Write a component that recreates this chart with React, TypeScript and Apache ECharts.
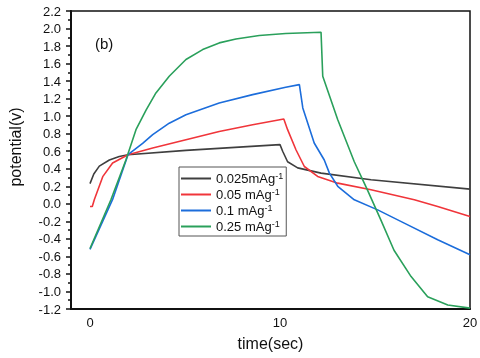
import React, { useEffect, useRef } from "react";
import * as echarts from "echarts";

const seriesNames = ["0.025mAg-1", "0.05 mAg-1", "0.1 mAg-1", "0.25 mAg-1"];
const colors = ["#3f3f3f", "#f0353a", "#1c6ddb", "#2aa05b"];

const tBlack = [0, 0.2, 0.49, 1.02, 1.54, 2.0, 5.05, 10.0, 10.14, 10.4, 10.93, 12.16, 14.79, 20];
const vBlack = [0.23, 0.34, 0.43, 0.5, 0.54, 0.56, 0.61, 0.675, 0.6, 0.48, 0.41, 0.35, 0.274, 0.168];

const tRed = [0, 0.12, 0.23, 0.67, 1.19, 2.0, 3.3, 5.05, 6.8, 8.56, 10.2, 10.4, 10.84, 11.28, 11.98, 13.04, 14.79, 17.07, 18.3, 20];
const vRed = [-0.03, -0.03, 0.05, 0.31, 0.465, 0.56, 0.637, 0.731, 0.826, 0.903, 0.968, 0.846, 0.617, 0.426, 0.312, 0.236, 0.16, 0.046, -0.03, -0.145];

const tBlue = [0, 1.19, 2.0, 2.77, 3.3, 4.17, 5.05, 6.8, 8.56, 10.3, 11.02, 11.2, 11.8, 12.33, 12.6, 13.04, 13.91, 15.14, 16.54, 18.3, 20];
const vBlue = [-0.52, 0.05, 0.56, 0.69, 0.79, 0.92, 1.017, 1.15, 1.246, 1.33, 1.36, 1.094, 0.694, 0.5, 0.35, 0.2, 0.046, -0.069, -0.22, -0.41, -0.58];

const tGreen = [0, 1.1, 1.89, 2.42, 2.95, 3.47, 4.17, 5.05, 5.93, 6.8, 7.68, 8.91, 10.3, 12.16, 12.25, 13.04, 13.91, 14.6, 15.3, 16.0, 16.9, 17.77, 18.83, 20];
const vGreen = [-0.51, 0.046, 0.5, 0.846, 1.07, 1.265, 1.455, 1.646, 1.76, 1.836, 1.88, 1.92, 1.943, 1.958, 1.455, 0.96, 0.48, 0.16, -0.18, -0.53, -0.83, -1.06, -1.154, -1.19];

const xLabels = [0, 10, 20];

const times = [tBlack, tRed, tBlue, tGreen];
const values = [vBlack, vRed, vBlue, vGreen];

export default function App() {
  const ref = useRef<HTMLDivElement>(null);
  useEffect(() => {
    if (!ref.current) return;
    const chart = echarts.init(ref.current, null, { renderer: "svg" });
    const font = "'Liberation Sans', Arial, sans-serif";
    chart.setOption({
      animation: false,
      textStyle: { fontFamily: font },
      grid: { left: 71, right: 10, top: 11, bottom: 49, show: true, borderColor: "#111", borderWidth: 1.5, outerBoundsMode: "none" },
      legend: {
        orient: "vertical",
        left: 179,
        top: 167,
        padding: [4, 3, 3, 2],
        itemGap: 2,
        itemWidth: 30,
        itemHeight: 2,
        icon: "rect",
        borderColor: "#555",
        borderWidth: 1,
        data: seriesNames,
        formatter: (name: string) => `{a|${name.replace("-1", "")}}{s|-1}`,
        textStyle: {
          fontFamily: font,
          color: "#111",
          rich: {
            a: { fontSize: 13, lineHeight: 15, fontFamily: font, color: "#111" },
            s: { fontSize: 9, lineHeight: 10, verticalAlign: "top", fontFamily: font, color: "#111" },
          },
        },
      },
      xAxis: {
        type: "value",
        min: -1,
        max: 20,
        name: "time(sec)",
        nameLocation: "middle",
        nameGap: 26,
        nameTextStyle: { fontSize: 16, color: "#111", fontFamily: font },
        axisLine: { show: true, onZero: false, lineStyle: { color: "#111", width: 2 } },
        axisTick: { show: false },
        splitLine: { show: false },
        axisLabel: { customValues: xLabels, fontSize: 13, color: "#111", margin: 7, fontFamily: font },
      },
      yAxis: {
        type: "value",
        min: -1.2,
        max: 2.2,
        interval: 0.2,
        axisLine: { show: true, onZero: false, lineStyle: { color: "#111", width: 2 } },
        axisTick: { show: true, length: 5, lineStyle: { color: "#111", width: 1.5 } },
        minorTick: { show: true, splitNumber: 2, length: 3, lineStyle: { color: "#111", width: 1.5 } },
        splitLine: { show: false },
        axisLabel: {
          fontSize: 13,
          color: "#111",
          margin: 10,
          fontFamily: font,
          formatter: (v: number) => (Math.abs(v) < 1e-9 ? "0.0" : v.toFixed(1)),
        },
      },
      graphic: [
        {
          type: "text",
          x: 15,
          y: 147,
          rotation: Math.PI / 2,
          style: { text: "potential(v)", fontSize: 16, fill: "#111", fontFamily: font, align: "center", verticalAlign: "middle" },
        },
        {
          type: "text",
          x: 95,
          y: 43,
          style: { text: "(b)", fontSize: 15, fill: "#111", fontFamily: font, align: "left", verticalAlign: "middle" },
        },
      ],
      series: seriesNames.map((name, i) => ({
        name,
        type: "line",
        symbol: "none",
        showSymbol: false,
        smooth: false,
        color: colors[i],
        lineStyle: { color: colors[i], width: 1.6 },
        data: times[i].map((t, j) => [t, values[i][j]]),
      })),
    });
    return () => chart.dispose();
  }, []);
  return <div ref={ref} style={{ position: "fixed", left: 0, top: 0, width: 480, height: 358 }} />;
}
